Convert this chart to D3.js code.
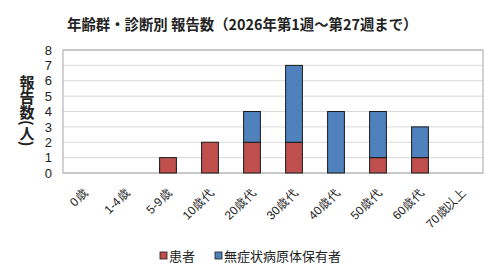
<!DOCTYPE html>
<html>
<head>
<meta charset="utf-8">
<script src="https://cdn.jsdelivr.net/npm/d3@7"></script>
<style>
  body { margin: 0; background: #fff; }
  svg { display: block; font-family: "Noto Sans CJK JP", sans-serif; }
</style>
</head>
<body>
<svg id="chart" width="500" height="279"></svg>
<script>
const categories = ["0歳", "1-4歳", "5-9歳", "10歳代", "20歳代", "30歳代", "40歳代", "50歳代", "60歳代", "70歳以上"]
const patients = [0, 0, 1, 2, 2, 2, 0, 1, 1, 0]
const carriers = [0, 0, 0, 0, 2, 5, 4, 3, 2, 0]
const seriesNames = ["患者", "無症状病原体保有者"]
const colors = ["#C0504D", "#4F81BD"]
const yTicks = [0, 1, 2, 3, 4, 5, 6, 7, 8]

const margin = { top: 50, right: 17, bottom: 106, left: 63 }
const width = 500 - margin.left - margin.right
const height = 279 - margin.top - margin.bottom

const svg = d3.select("#chart")

svg.append("text")
    .attr("x", 67)
    .attr("y", 30)
    .attr("font-size", "14.4px")
    .attr("font-weight", "bold")
    .attr("fill", "#222")
    .text("年齢群・診断別 報告数（2026年第1週～第27週まで）")

const group = svg.append("g")
    .attr("transform", `translate(${margin.left}, ${margin.top})`)

const xScale = d3.scaleBand()
    .domain(categories)
    .range([0, width])
    .paddingInner(0.6)
    .paddingOuter(0.3)

const yScale = d3.scaleLinear()
    .domain([0, 8])
    .range([height, 0])

// gridlines
group.append("g")
    .selectAll("line")
    .data(yTicks)
    .enter()
    .append("line")
        .attr("x1", 0)
        .attr("x2", width)
        .attr("y1", d => yScale(d))
        .attr("y2", d => yScale(d))
        .attr("stroke", "#d9d9d9")
        .attr("stroke-width", 1)

// plot border
group.append("rect")
    .attr("x", 0)
    .attr("y", 0)
    .attr("width", width)
    .attr("height", height)
    .attr("fill", "none")
    .attr("stroke", "#a6a6a6")
    .attr("stroke-width", 1)

// stacked bars
const stackData = categories.map((c, i) => ({ cat: c, p: patients[i], c2: carriers[i] }))
const stacked = d3.stack().keys(["p", "c2"])(stackData)

group.append("g")
    .selectAll("g")
    .data(stacked)
    .enter()
    .append("g")
        .attr("fill", (d, i) => colors[i])
    .selectAll("rect")
    .data(d => d.filter(s => s[1] - s[0] > 0))
    .enter()
    .append("rect")
        .attr("x", d => xScale(d.data.cat))
        .attr("y", d => yScale(d[1]))
        .attr("width", xScale.bandwidth())
        .attr("height", d => yScale(d[0]) - yScale(d[1]))
        .attr("stroke", "#1a1a1a")
        .attr("stroke-width", 1)

// y axis
const yAxis = group.append("g")
    .call(d3.axisLeft(yScale).tickValues(yTicks).tickSize(0).tickPadding(11))
yAxis.select(".domain").remove()
yAxis.selectAll("text")
    .attr("font-size", "13px")
    .attr("font-family", "'Liberation Sans', sans-serif")
    .attr("fill", "#222")

// x axis
const xAxis = group.append("g")
    .attr("transform", `translate(0, ${height})`)
    .call(d3.axisBottom(xScale).tickSize(0).tickPadding(0))
xAxis.select(".domain").remove()
xAxis.selectAll("text")
    .attr("font-size", "12px")
    .attr("fill", "#222")
    .attr("text-anchor", "end")
    .attr("dy", null)
    .attr("transform", "translate(4, 21) rotate(-45)")

// y label (vertical)
svg.append("text")
    .attr("x", 27)
    .attr("y", 75)
    .attr("font-size", "15px")
    .attr("font-weight", "bold")
    .attr("fill", "#222")
    .style("writing-mode", "vertical-rl")
    .text("報告数(人)")

// legend
const legendX = [160, 215]
const legend = svg.append("g")
seriesNames.forEach((name, i) => {
    legend.append("rect")
        .attr("x", legendX[i])
        .attr("y", 252)
        .attr("width", 7)
        .attr("height", 7)
        .attr("fill", colors[i])
        .attr("stroke", "#1a1a1a")
        .attr("stroke-width", 0.8)
    legend.append("text")
        .attr("x", legendX[i] + 9)
        .attr("y", 260.5)
        .attr("font-size", "13px")
        .attr("fill", "#222")
        .text(name)
})
</script>
</body>
</html>
